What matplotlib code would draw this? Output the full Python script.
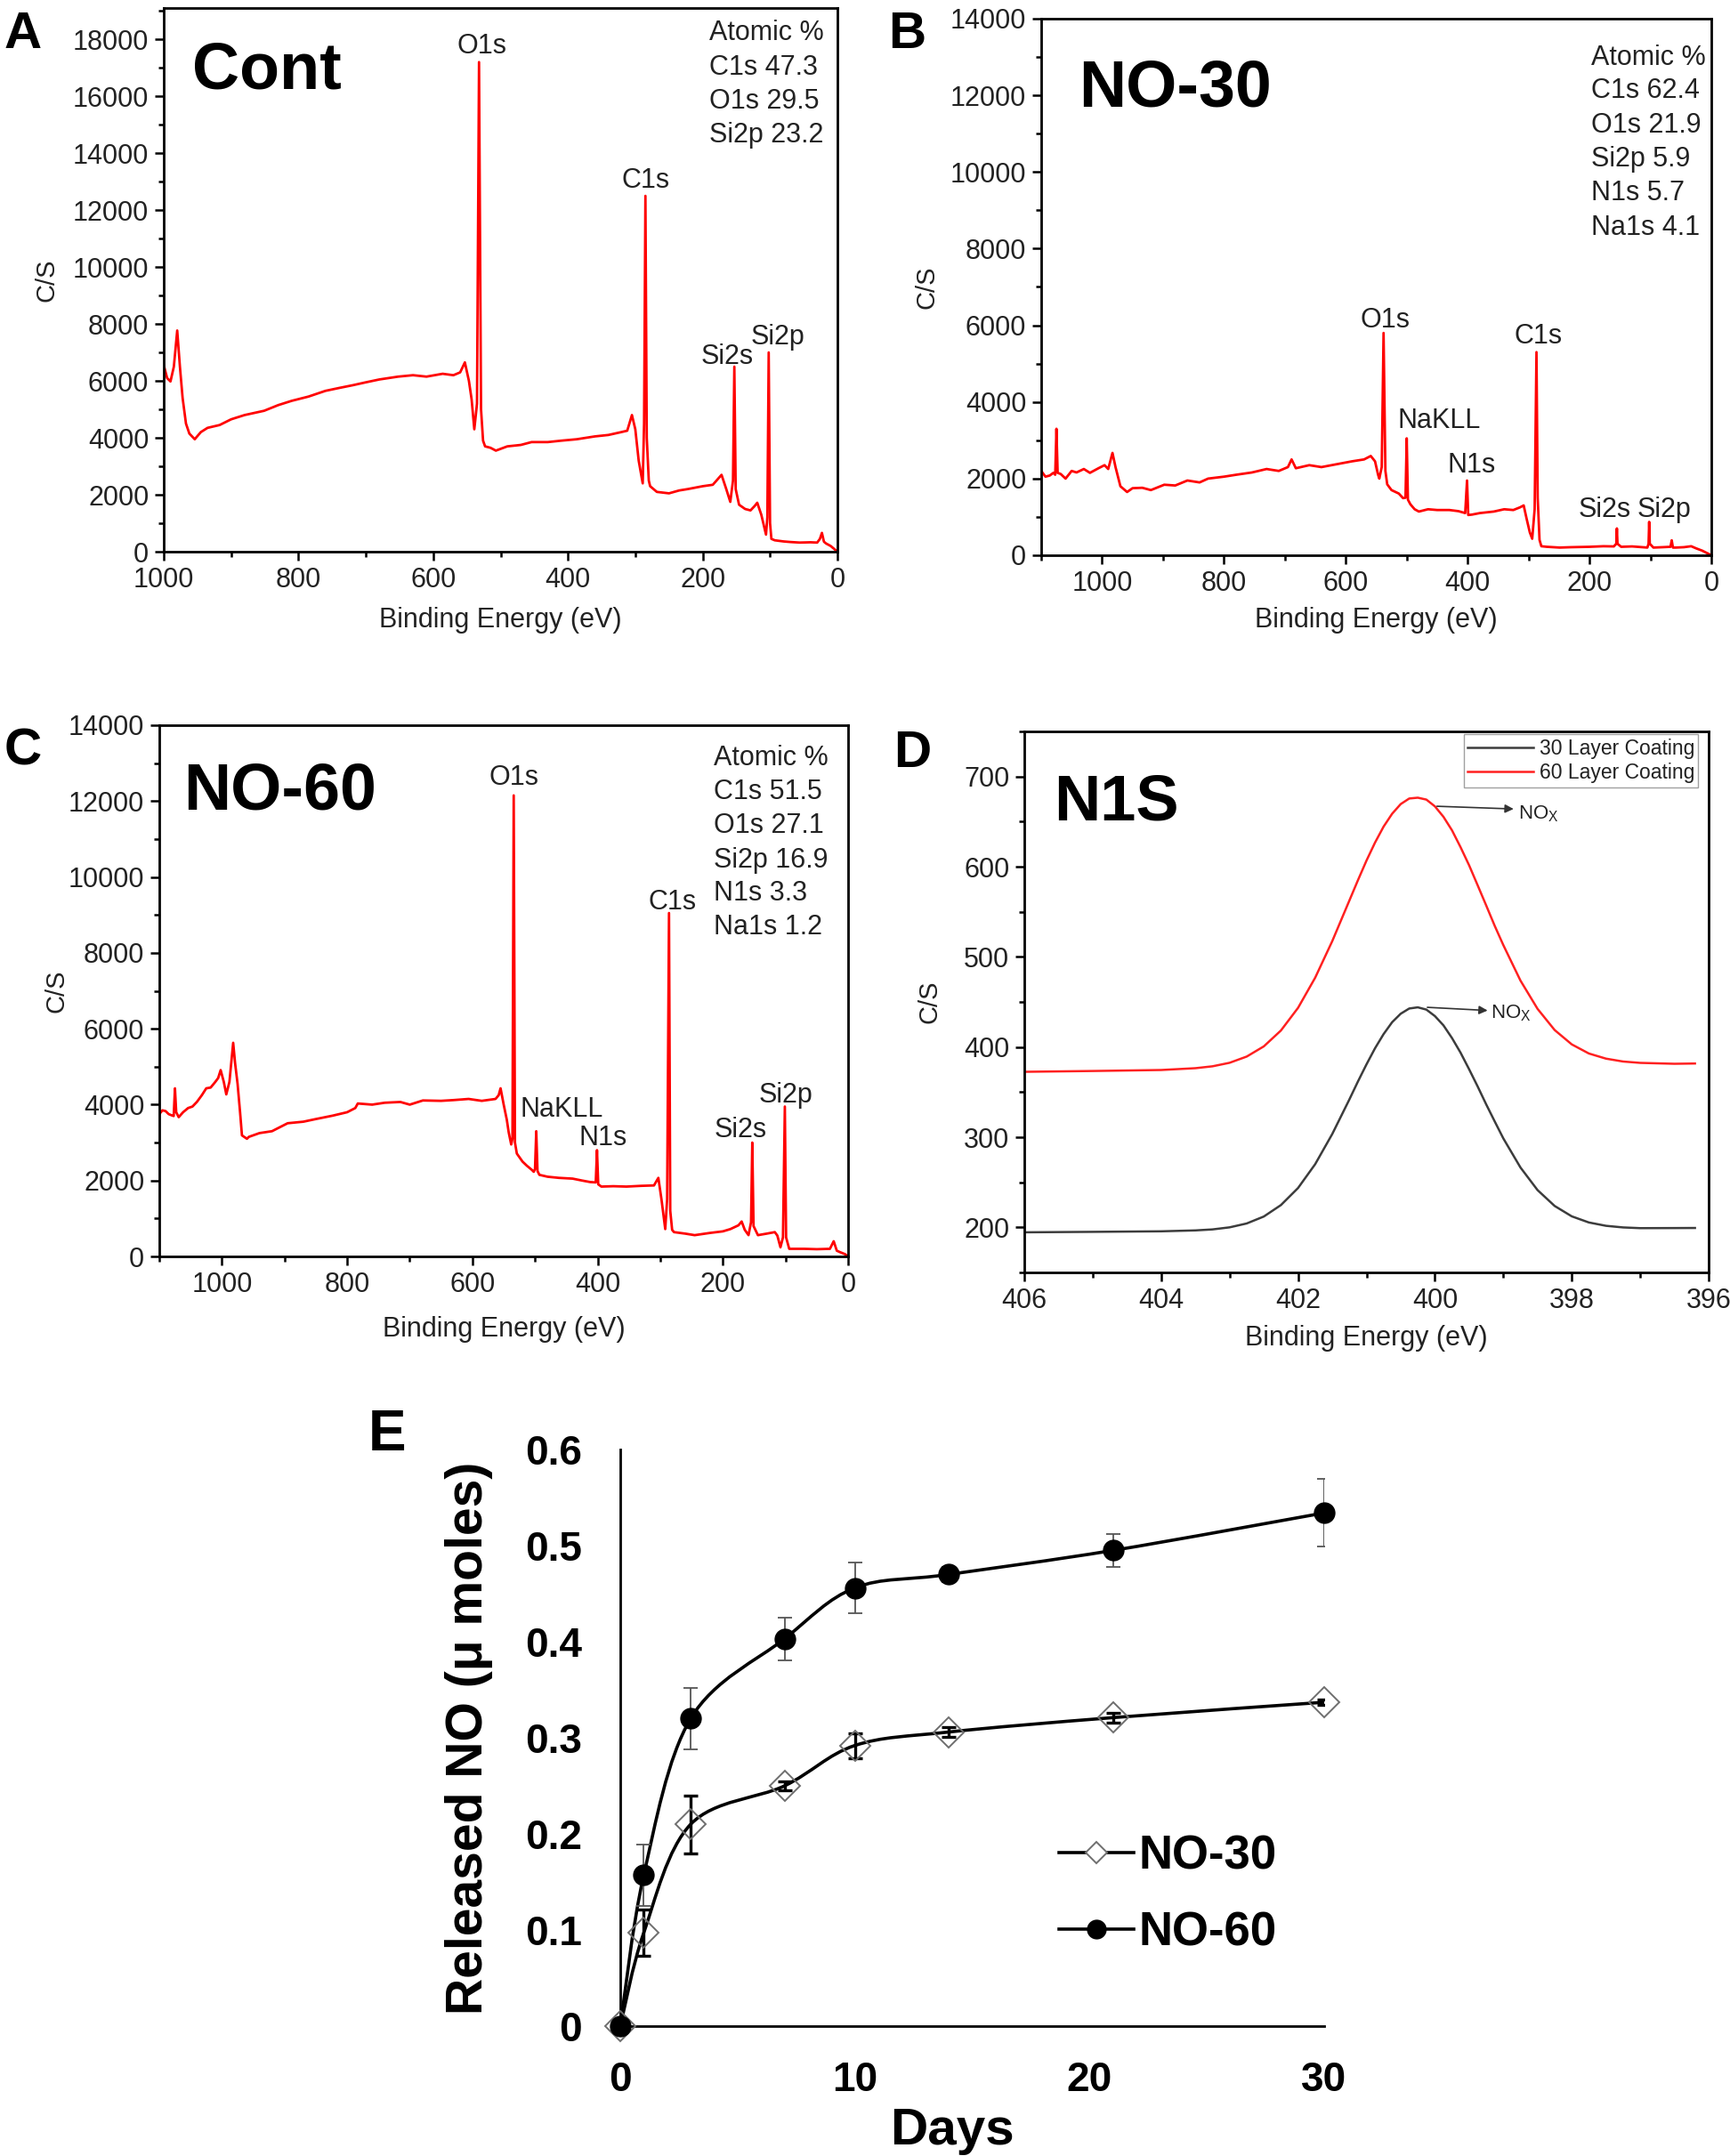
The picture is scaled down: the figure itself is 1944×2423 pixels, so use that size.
import numpy as np
import matplotlib
matplotlib.use('Agg')
import matplotlib.pyplot as plt
from matplotlib.path import Path
from matplotlib.patches import PathPatch
from matplotlib.ticker import MultipleLocator
from matplotlib.lines import Line2D

plt.rcParams['font.family'] = ['Liberation Sans', 'DejaVu Sans']
plt.rcParams['mathtext.default'] = 'regular'

W, H = 1944, 2423

# ---- data: XPS survey spectra (binding energy eV, counts/s) ----
cont_spec = [(1000, 6560), (995, 6100), (990, 5980), (985, 6500), (980, 7770), (976, 6500),
             (972, 5400), (967, 4500), (962, 4150), (954, 3950), (945, 4200), (935, 4350),
             (917, 4450), (900, 4650), (880, 4800), (851, 4950), (830, 5150), (810, 5300),
             (785, 5450), (760, 5650), (740, 5750), (719, 5850), (700, 5950), (680, 6050),
             (652, 6150), (630, 6200), (610, 6150), (586, 6250), (570, 6200), (560, 6300),
             (553, 6650), (547, 6000), (543, 5350), (539, 4300), (535, 5200), (532, 17200),
             (529, 5000), (526, 3900), (523, 3700), (515, 3650), (507, 3550), (490, 3700),
             (470, 3750), (454, 3850), (430, 3850), (410, 3900), (387, 3950), (360, 4050),
             (340, 4100), (321, 4200), (312, 4250), (305, 4800), (300, 4300), (295, 3200),
             (289, 2400), (287, 4500), (285, 12500), (283, 4000), (280, 2500), (278, 2300),
             (268, 2100), (250, 2050), (235, 2150), (222, 2200), (200, 2300), (185, 2350),
             (172, 2700), (165, 2200), (159, 1750), (155, 2500), (153, 6500), (151, 2200),
             (146, 1650), (137, 1500), (129, 1450), (123, 1600), (119, 1720), (113, 1300),
             (106, 600), (104, 1200), (102, 7000), (100, 1000), (98, 450), (93, 400),
             (80, 360), (70, 340), (56, 320), (40, 330), (30, 320), (26, 450), (23, 660),
             (20, 350), (17, 290), (10, 200), (5, 100), (0, 0)]

no30_spec = [(1100, 2200), (1093, 2050), (1086, 2080), (1080, 2150), (1077, 2100), (1075, 3300),
             (1073, 2150), (1068, 2120), (1060, 2000), (1050, 2200), (1042, 2160), (1030, 2250),
             (1020, 2150), (1006, 2270), (996, 2350), (990, 2250), (983, 2670), (978, 2300),
             (970, 1800), (959, 1650), (950, 1750), (934, 1760), (920, 1700), (898, 1840),
             (880, 1820), (860, 1950), (840, 1900), (826, 2000), (800, 2050), (780, 2100),
             (754, 2160), (730, 2250), (710, 2200), (695, 2300), (689, 2500), (682, 2270),
             (660, 2350), (640, 2300), (610, 2390), (590, 2450), (570, 2500), (559, 2590),
             (552, 2450), (547, 2100), (545, 2000), (541, 2300), (538, 5800), (535, 2200),
             (532, 1850), (525, 1700), (513, 1610), (506, 1490), (502, 1500), (500, 3050),
             (498, 1450), (494, 1330), (487, 1200), (480, 1140), (465, 1200), (450, 1180),
             (430, 1180), (415, 1150), (404, 1100), (401, 1950), (399, 1050), (393, 1060),
             (380, 1100), (357, 1140), (340, 1200), (325, 1180), (314, 1250), (308, 1300),
             (303, 940), (298, 600), (294, 430), (290, 1200), (287, 5300), (285, 1500),
             (282, 400), (279, 235), (270, 220), (249, 200), (230, 210), (200, 220),
             (177, 235), (160, 230), (156, 300), (155, 700), (154, 300), (148, 220),
             (130, 230), (105, 200), (103, 300), (102, 870), (101, 300), (95, 200),
             (80, 210), (67, 220), (65, 390), (63, 200), (58, 200), (45, 210), (33, 235),
             (25, 180), (15, 120), (0, 0)]

no60_spec = [(1100, 3750), (1095, 3850), (1090, 3830), (1085, 3750), (1079, 3710), (1077, 3700),
             (1075, 4430), (1073, 3800), (1069, 3670), (1062, 3800), (1054, 3910), (1047, 3950),
             (1040, 4070), (1032, 4250), (1025, 4430), (1018, 4450), (1011, 4590), (1006, 4700),
             (1002, 4910), (997, 4600), (993, 4270), (988, 4600), (982, 5630), (979, 5100),
             (975, 4550), (971, 3800), (968, 3190), (960, 3100), (957, 3150), (940, 3250),
             (920, 3300), (895, 3510), (870, 3550), (850, 3620), (823, 3710), (800, 3800),
             (787, 3910), (783, 4030), (760, 4000), (740, 4050), (715, 4070), (700, 4000),
             (679, 4110), (650, 4100), (630, 4120), (606, 4150), (585, 4100), (563, 4150),
             (558, 4250), (555, 4430), (550, 4000), (545, 3600), (542, 3270), (538, 2950),
             (536, 3100), (534, 12150), (532, 3000), (529, 2710), (520, 2500), (513, 2390),
             (505, 2280), (502, 2230), (500, 2300), (498, 3300), (496, 2250), (493, 2150),
             (480, 2100), (462, 2070), (440, 2050), (425, 2000), (412, 1960), (403, 1950),
             (401, 2800), (399, 1900), (394, 1840), (375, 1850), (354, 1840), (330, 1860),
             (310, 1870), (303, 2070), (298, 1500), (292, 720), (289, 1500), (286, 9050),
             (284, 1200), (281, 700), (278, 640), (260, 600), (245, 560), (220, 620),
             (200, 660), (188, 720), (175, 820), (170, 920), (165, 700), (159, 560),
             (155, 900), (153, 3000), (151, 800), (144, 560), (130, 600), (117, 640),
             (113, 550), (108, 240), (104, 500), (101, 3950), (99, 500), (94, 200),
             (70, 200), (50, 190), (29, 200), (23, 400), (18, 150), (14, 120), (5, 60), (0, 0)]

# peak labels: (text, energy, counts)
cont_peaks = [('O1s', 528, 17750), ('C1s', 284, 13030), ('Si2s', 163, 6850), ('Si2p', 89, 7520)]
no30_peaks = [('O1s', 535, 6130), ('C1s', 284, 5720), ('NaKLL', 447, 3500), ('N1s', 394, 2350),
              ('Si2s', 175, 1180), ('Si2p', 77, 1180)]
no60_peaks = [('O1s', 534, 12620), ('C1s', 281, 9340), ('NaKLL', 457, 3880), ('N1s', 392, 3110),
              ('Si2s', 172, 3340), ('Si2p', 99, 4240)]

cont_atomic = ['Atomic %', 'C1s 47.3', 'O1s 29.5', 'Si2p 23.2']
no30_atomic = ['Atomic %', 'C1s 62.4', 'O1s 21.9', 'Si2p 5.9', 'N1s 5.7', 'Na1s 4.1']
no60_atomic = ['Atomic %', 'C1s 51.5', 'O1s 27.1', 'Si2p 16.9', 'N1s 3.3', 'Na1s 1.2']

# ---- data: N1s high resolution ----
n1s_be = [406, 405, 404, 403.5, 403.25, 403, 402.75, 402.5, 402.25, 402, 401.75, 401.5,
          401.25, 401.125, 401, 400.875, 400.75, 400.625, 400.5, 400.375, 400.25, 400.125,
          400, 399.875, 399.75, 399.625, 399.5, 399.375, 399.25, 399.125, 399, 398.75,
          398.5, 398.25, 398, 397.75, 397.5, 397.25, 397, 396.5, 396.2]
layer30 = [194.5, 195.0, 195.6, 196.6, 197.7, 200.0, 204.3, 212.0, 224.7, 243.6, 270.0, 303.5,
           341.8, 361.7, 380.7, 398.6, 414.3, 427.5, 436.9, 442.7, 444.0, 441.5,
           434.3, 424.0, 409.9, 393.7, 375.3, 356.2, 336.3, 317.3, 298.6, 266.4,
           241.3, 223.7, 212.2, 205.4, 201.7, 199.9, 199.1, 199.2, 199.3]
layer60 = [372.5, 373.4, 374.5, 376.5, 378.6, 382.5, 389.4, 400.7, 418.3, 443.4, 476.8, 517.4,
           562.4, 584.9, 606.7, 626.7, 644.4, 658.7, 669.4, 675.6, 676.5, 674.4,
           666.9, 655.3, 640.3, 621.6, 601.5, 579.3, 556.9, 534.2, 513.0, 473.7,
           442.3, 418.8, 402.9, 392.8, 387.1, 383.9, 382.4, 381.4, 381.7]

# ---- data: NO release ----
days = [0, 1, 3, 7, 10, 14, 21, 30]
no30 = [0, 0.097, 0.21, 0.25, 0.292, 0.306, 0.321, 0.337]
no30_err = [0, 0.024, 0.03, 0.005, 0.013, 0.005, 0.005, 0.003]
no60 = [0, 0.157, 0.32, 0.403, 0.456, 0.47, 0.495, 0.534]
no60_err = [0, 0.032, 0.032, 0.022, 0.026, 0.008, 0.017, 0.035]
y_ticks = [0, 0.1, 0.2, 0.3, 0.4, 0.5, 0.6]
y_labels = ['0', '0.1', '0.2', '0.3', '0.4', '0.5', '0.6']
x_ticks = [0, 10, 20, 30]

TXT = '#222222'


def box(l, t, r, b):
    return [l / W, 1 - b / H, (r - l) / W, (b - t) / H]


def fig_text(fig, x, y, s, **kw):
    fig.text(x / W, 1 - y / H, s, **kw)


def style_box(ax, xmaj, xmin, ymaj, ymin):
    for sp in ax.spines.values():
        sp.set_linewidth(2)
    ax.xaxis.set_major_locator(MultipleLocator(xmaj))
    ax.xaxis.set_minor_locator(MultipleLocator(xmin))
    ax.yaxis.set_major_locator(MultipleLocator(ymaj))
    ax.yaxis.set_minor_locator(MultipleLocator(ymin))
    ax.tick_params(which='both', direction='out', top=False, right=False, width=1.8,
                   labelsize=22, labelcolor=TXT, pad=5)
    ax.tick_params(which='major', length=7)
    ax.tick_params(which='minor', length=4)


def survey(fig, rect, spec, xmax, ymax, peaks, atomic, atomic_xy, name, name_xy,
           ylab_x, xlab_y):
    ax = fig.add_axes(box(*rect))
    be, cs = np.array(spec).T
    ax.plot(be, cs, color='#ff0000', lw=2.0)
    ax.set_xlim(xmax, 0)
    ax.set_ylim(0, ymax)
    style_box(ax, 200, 100, 2000, 1000)
    for lab, x, y in peaks:
        ax.text(x, y, lab, ha='center', va='center', fontsize=22, color=TXT)
    ax.set_ylabel('C/S', fontsize=21, color=TXT)
    ax.set_xlabel('Binding Energy (eV)', fontsize=22, color=TXT)
    ax.yaxis.set_label_coords(ylab_x, 0.5)
    ax.xaxis.set_label_coords(0.5, xlab_y)
    x0, ys = atomic_xy
    for line, y in zip(atomic, ys):
        fig_text(fig, x0, y, line, fontsize=22, color=TXT, va='center')
    fig_text(fig, name_xy[0], name_xy[1], name, fontsize=53, fontweight='bold',
             va='baseline')
    return ax


def smooth_path(x, y):
    pts = np.column_stack([x, y]).astype(float)
    n = len(pts)
    verts = [pts[0]]
    codes = [Path.MOVETO]
    for i in range(n - 1):
        p0 = pts[i - 1] if i > 0 else pts[i]
        p1, p2 = pts[i], pts[i + 1]
        p3 = pts[i + 2] if i + 2 < n else pts[i + 1]
        verts += [p1 + (p2 - p0) / 6, p2 - (p3 - p1) / 6, p2]
        codes += [Path.CURVE4] * 3
    return Path(verts, codes)


fig = plt.figure(figsize=(W / 100, H / 100), dpi=100)
fig.patch.set_facecolor('white')

# A
survey(fig, (184, 9, 941, 620), cont_spec, 1000, 19100, cont_peaks, cont_atomic,
       (797, [37, 76, 114, 152]), 'Cont', (216, 100), -0.155, -0.101)
# B
survey(fig, (1170, 21, 1923, 624), no30_spec, 1100, 14000, no30_peaks, no30_atomic,
       (1788, [65, 102, 141, 179, 217, 256]), 'NO-30', (1212, 120), -0.152, -0.096)
# C
survey(fig, (179, 815, 953, 1412), no60_spec, 1100, 14000, no60_peaks, no60_atomic,
       (802, [852, 890, 928, 967, 1004, 1042]), 'NO-60', (206, 910), -0.131, -0.113)

# D
axd = fig.add_axes(box(1151, 822, 1920, 1430))
axd.plot(n1s_be, layer30, color='#3c3c3c', lw=1.8, label='30 Layer Coating')
axd.plot(n1s_be, layer60, color='#ff2020', lw=1.8, label='60 Layer Coating')
axd.set_xlim(406, 396)
axd.set_ylim(150, 750)
style_box(axd, 2, 1, 100, 50)
axd.set_ylabel('C/S', fontsize=21, color=TXT)
axd.set_xlabel('Binding Energy (eV)', fontsize=22, color=TXT)
axd.yaxis.set_label_coords(-0.12, 0.5)
axd.xaxis.set_label_coords(0.5, -0.097)
leg = axd.legend(loc='upper right', bbox_to_anchor=(0.985, 0.995), fontsize=16.5,
                 frameon=True, fancybox=False, edgecolor='#888888', borderpad=0.2,
                 labelspacing=0.2, handlelength=3.2, handletextpad=0.3, borderaxespad=0)
leg.get_frame().set_linewidth(1)
for t in leg.get_texts():
    t.set_color(TXT)
for x0, y0, x1, y1, tx, ty in [(399.97, 667, 398.85, 664, 398.78, 659),
                                (400.11, 444, 399.23, 440.5, 399.18, 437)]:
    axd.annotate('', xy=(x1, y1), xytext=(x0, y0),
                 arrowprops=dict(arrowstyle='-|>', color='#333333', lw=1.2,
                                 mutation_scale=14, shrinkA=0, shrinkB=0))
    axd.text(tx, ty, 'NO$_X$', fontsize=16, color=TXT, ha='left', va='center')
fig_text(fig, 1184, 922, 'N1S', fontsize=52, fontweight='bold', va='baseline')

# E
axe = fig.add_axes(box(697, 1629, 1488, 2277))
axe.add_patch(PathPatch(smooth_path(days, no30), transform=axe.transData, fill=False,
                        edgecolor='black', lw=2.6, zorder=3))
axe.add_patch(PathPatch(smooth_path(days, no60), transform=axe.transData, fill=False,
                        edgecolor='black', lw=2.6, zorder=3))
axe.errorbar(days[1:], no60[1:], yerr=no60_err[1:], fmt='none', ecolor='#555555',
             elinewidth=1.3, capsize=5.5, capthick=1.3, zorder=4)
axe.errorbar(days[1:], no30[1:], yerr=no30_err[1:], fmt='none', ecolor='black',
             elinewidth=2.4, capsize=5.5, capthick=2.4, zorder=5)
axe.plot(days, no30, ls='none', marker='D', ms=17, mfc='none', mec='#6e6e6e', mew=1.4,
         clip_on=False, zorder=6)
axe.plot(days, no60, ls='none', marker='o', ms=16.5, mfc='black', mec='black',
         clip_on=False, zorder=6)
axe.set_xlim(0, 30)
axe.set_ylim(0, 0.6)
for s in ('top', 'right'):
    axe.spines[s].set_visible(False)
for s in ('left', 'bottom'):
    axe.spines[s].set_linewidth(2)
axe.set_yticks(y_ticks, labels=y_labels, fontsize=33, fontweight='bold')
axe.set_xticks(x_ticks, labels=[str(v) for v in x_ticks], fontsize=33, fontweight='bold')
axe.tick_params(axis='both', length=0)
axe.tick_params(axis='y', pad=31)
axe.tick_params(axis='x', pad=28)
axe.set_ylabel('Released NO (μ moles)', fontsize=41, fontweight='bold')
axe.set_xlabel('Days', fontsize=42, fontweight='bold')
axe.yaxis.set_label_coords(-0.181, 0.5)
axe.xaxis.set_label_coords(0.472, -0.14)
handles = [Line2D([], [], color='black', lw=2.6, marker='D', ms=12, mfc='white',
                  mec='#6e6e6e', mew=1.4),
           Line2D([], [], color='black', lw=2.6, marker='o', ms=15, mfc='black')]
axe.legend(handles, ['NO-30', 'NO-60'], loc='upper left', bbox_to_anchor=(0.623, 0.333),
           frameon=False, prop={'size': 38, 'weight': 'bold'}, borderpad=0,
           borderaxespad=0, handlelength=1.6, handletextpad=0.1, labelspacing=0.69,
           numpoints=1)

# panel letters
for lab, x, y, fs in [('A', 5, 54, 42), ('B', 998, 54, 42), ('C', 5, 860, 42),
                      ('D', 1004, 862, 42), ('E', 414, 1630, 46)]:
    fig_text(fig, x, y, lab, fontsize=fs, fontweight='bold', va='baseline')

fig.savefig('out.png', dpi=100)
